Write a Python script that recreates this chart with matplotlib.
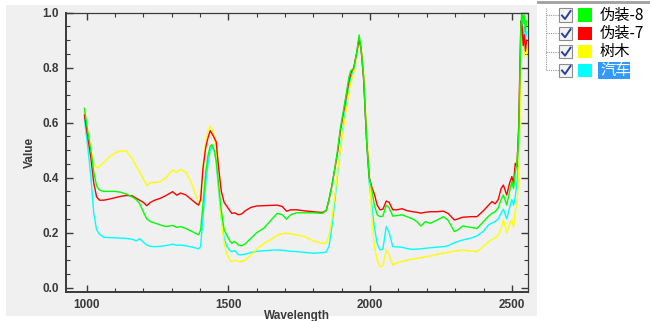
import matplotlib
matplotlib.use("Agg")
import matplotlib.pyplot as plt
from matplotlib.patches import Rectangle
from matplotlib.lines import Line2D
from matplotlib.ticker import MultipleLocator

# wavelength grid (nm) and reflectance per class
wavelength = [992, 1005, 1015, 1025, 1035, 1045, 1060, 1080, 1100, 1120, 1140, 1160,
              1175, 1187, 1200, 1212, 1225, 1240, 1260, 1280, 1303, 1318, 1331, 1350,
              1370, 1385, 1395, 1402, 1410, 1420, 1428, 1436, 1442, 1450, 1457, 1465,
              1475, 1485, 1495, 1505, 1512, 1522, 1535, 1547, 1560, 1580, 1600, 1625,
              1650, 1672, 1690, 1705, 1720, 1740, 1770, 1800, 1831, 1845, 1855, 1865,
              1875, 1885, 1895, 1905, 1915, 1925, 1932, 1942, 1952, 1961, 1968, 1977,
              1988, 1997, 2006, 2015, 2025, 2035, 2045, 2057, 2067, 2080, 2095, 2112,
              2130, 2150, 2165, 2179, 2195, 2212, 2235, 2259, 2275, 2297, 2310, 2326,
              2356, 2377, 2400, 2418, 2430, 2441, 2452, 2462, 2470, 2482, 2492, 2500,
              2506, 2512, 2518, 2524, 2528, 2532, 2536, 2540, 2544, 2548, 2552]

camo8 = [.652, .56, .50, .42, .37, .355, .35, .35, .35, .347, .34, .33,
         .32, .305, .275, .25, .24, .235, .228, .222, .226, .219, .222, .215,
         .205, .197, .192, .21, .30, .42, .48, .515, .52, .50, .46, .38,
         .28, .21, .19, .17, .161, .168, .155, .152, .16, .18, .20, .216,
         .245, .27, .265, .249, .265, .272, .272, .272, .27, .28, .32, .37,
         .43, .50, .58, .64, .70, .765, .79, .795, .85, .919, .87, .767,
         .53, .40, .355, .30, .265, .258, .26, .30, .29, .26, .262, .265,
         .258, .25, .24, .224, .24, .234, .245, .258, .245, .204, .21, .224,
         .219, .215, .24, .26, .27, .276, .29, .32, .337, .30, .35, .385,
         .36, .42, .45, .55, .75, .95, 1.02, .96, .99, .93, .97]

camo7 = [.628, .54, .47, .38, .33, .318, .318, .322, .327, .332, .335, .334,
         .325, .318, .31, .298, .31, .318, .325, .335, .349, .336, .344, .337,
         .32, .307, .30, .32, .43, .51, .545, .571, .56, .545, .53, .44,
         .35, .31, .295, .28, .27, .272, .265, .268, .28, .292, .297, .298,
         .299, .30, .295, .278, .283, .283, .279, .276, .273, .28, .32, .37,
         .43, .49, .57, .63, .69, .75, .78, .80, .85, .904, .87, .76,
         .53, .40, .365, .34, .30, .283, .285, .315, .31, .283, .283, .287,
         .28, .276, .274, .271, .274, .276, .276, .278, .27, .246, .25, .256,
         .258, .258, .28, .30, .313, .305, .32, .36, .373, .337, .38, .404,
         .38, .452, .44, .58, .78, .97, .95, .88, .92, .86, .90]

tree = [.64, .56, .50, .45, .435, .44, .455, .475, .49, .497, .497, .47,
        .44, .42, .395, .372, .382, .382, .385, .40, .428, .419, .43, .42,
        .38, .335, .305, .32, .44, .53, .57, .588, .575, .55, .50, .38,
        .25, .16, .12, .10, .095, .10, .095, .095, .10, .12, .14, .16,
        .175, .19, .196, .198, .196, .192, .185, .17, .161, .162, .19, .25,
        .33, .42, .50, .57, .64, .71, .745, .78, .84, .90, .88, .78,
        .56, .42, .25, .15, .10, .076, .08, .137, .12, .083, .09, .095,
        .10, .104, .107, .109, .112, .115, .12, .125, .128, .133, .135, .137,
        .133, .131, .15, .167, .175, .18, .19, .215, .246, .20, .23, .246,
        .22, .283, .30, .40, .60, .85, .93, .90, .84, .88, .85]

car = [.615, .50, .40, .27, .21, .195, .183, .182, .181, .180, .179, .176,
       .170, .178, .165, .155, .150, .149, .150, .153, .158, .154, .155, .152,
       .148, .144, .141, .15, .25, .38, .45, .50, .51, .50, .46, .36,
       .25, .18, .15, .135, .131, .135, .12, .119, .122, .128, .132, .134,
       .136, .137, .136, .134, .132, .131, .128, .125, .127, .13, .15, .22,
       .31, .41, .50, .58, .66, .73, .765, .79, .85, .905, .87, .76,
       .52, .38, .30, .22, .16, .137, .14, .222, .20, .149, .148, .147,
       .142, .139, .14, .141, .143, .145, .147, .149, .152, .163, .168, .173,
       .18, .188, .205, .228, .235, .24, .25, .27, .285, .25, .29, .32,
       .30, .33, .38, .50, .70, .93, .98, .92, .95, .90, .93]

labels = ["伪装-8", "伪装-7", "树木", "汽车"]
colors = ["#00ff00", "#ff0000", "#ffff00", "#00ffff"]
series = [camo8, camo7, tree, car]

BG = "#f0f0f0"
INK = "#3a3a3a"
TICKFONT = dict(family="Liberation Sans", weight="bold", size=8.5)
CJK = ["Noto Sans CJK SC", "DejaVu Sans"]

W, H = 650, 321
fig = plt.figure(figsize=(W / 100, H / 100), dpi=100)
fig.patch.set_facecolor("white")


def px(x, y):
    """pixel coords (origin top-left) -> figure fraction"""
    return x / W, 1 - y / H


# grey panel behind the chart
x0, y0 = px(6, 316)
fig.patches.append(Rectangle((x0, y0), 531 / W, 311 / H, transform=fig.transFigure,
                             facecolor=BG, edgecolor="none", zorder=-5))

l, b = px(66, 292)
r, t = px(528, 12.7)
ax = fig.add_axes([l, b, r - l, t - b])
ax.set_zorder(2)
ax.set_facecolor(BG)

# draw back to front so green ends up on top
for vals, c in reversed(list(zip(series, colors))):
    ax.plot(wavelength, vals, color=c, lw=1.0, solid_joinstyle="round")

ax.set_xlim(927, 2557)
ax.set_ylim(-0.016, 1.0)
ax.xaxis.set_major_locator(MultipleLocator(500))
ax.xaxis.set_minor_locator(MultipleLocator(100))
ax.yaxis.set_major_locator(MultipleLocator(0.2))
ax.yaxis.set_minor_locator(MultipleLocator(0.05))
ax.tick_params(which="both", direction="in", top=True, right=True, color=INK)
ax.tick_params(which="major", length=5, width=1.0, pad=5)
ax.tick_params(which="minor", length=3, width=0.8)
for lab in ax.get_xticklabels() + ax.get_yticklabels():
    lab.set(**TICKFONT, color=INK)
for side in ("left", "bottom"):
    ax.spines[side].set_linewidth(1.4)
for side in ("top", "right"):
    ax.spines[side].set_linewidth(0.9)
for s in ax.spines.values():
    s.set_color(INK)

ax.set_ylabel("Value", fontdict=TICKFONT, color=INK, labelpad=5)
ax.set_xlabel("Wavelength", fontdict=TICKFONT, color=INK, labelpad=-1)

# tree-view style legend on the right
fig.add_artist(Line2D([538 / W, 1], [1 - 1.5 / H] * 2, transform=fig.transFigure,
                      color="#a0a0a0", lw=2))
rows = [15, 33.3, 51.7, 70]
fig.add_artist(Line2D([546 / W] * 2, [1 - 8 / H, 1 - rows[-1] / H],
                      transform=fig.transFigure, color="#9a9a9a", lw=0.8, ls=(0, (1, 1))))
for yy, lab, c in zip(rows, labels, colors):
    fig.add_artist(Line2D([546 / W, 559 / W], [1 - yy / H] * 2, transform=fig.transFigure,
                          color="#9a9a9a", lw=0.8, ls=(0, (1, 1))))
    bx, by = px(559, yy + 6.5)
    fig.patches.append(Rectangle((bx, by), 13 / W, 13 / H, transform=fig.transFigure,
                                 facecolor="#f4f4f4", edgecolor="#8c8c8c", lw=0.8))
    fig.add_artist(Line2D([562 / W, 565 / W, 570.5 / W],
                          [1 - (yy + 0.5) / H, 1 - (yy + 4) / H, 1 - (yy - 4) / H],
                          transform=fig.transFigure, color="#2a3f9a", lw=1.4))
    sx, sy = px(578, yy + 6.5)
    fig.patches.append(Rectangle((sx, sy), 14 / W, 13 / H, transform=fig.transFigure,
                                 facecolor=c, edgecolor="none"))
    tx, ty = px(600, yy)
    if lab == "汽车":
        hx, hy = px(598, yy + 8.5)
        fig.patches.append(Rectangle((hx, hy), 32 / W, 17 / H, transform=fig.transFigure,
                                     facecolor="#3399ff", edgecolor="none"))
        fig.text(tx, ty, lab, family=CJK, size=11, color="white", va="center", ha="left")
    else:
        fig.text(tx, ty, lab, family=CJK, size=11, color="black", va="center", ha="left")

fig.savefig("out.png", dpi=100, facecolor="white")
